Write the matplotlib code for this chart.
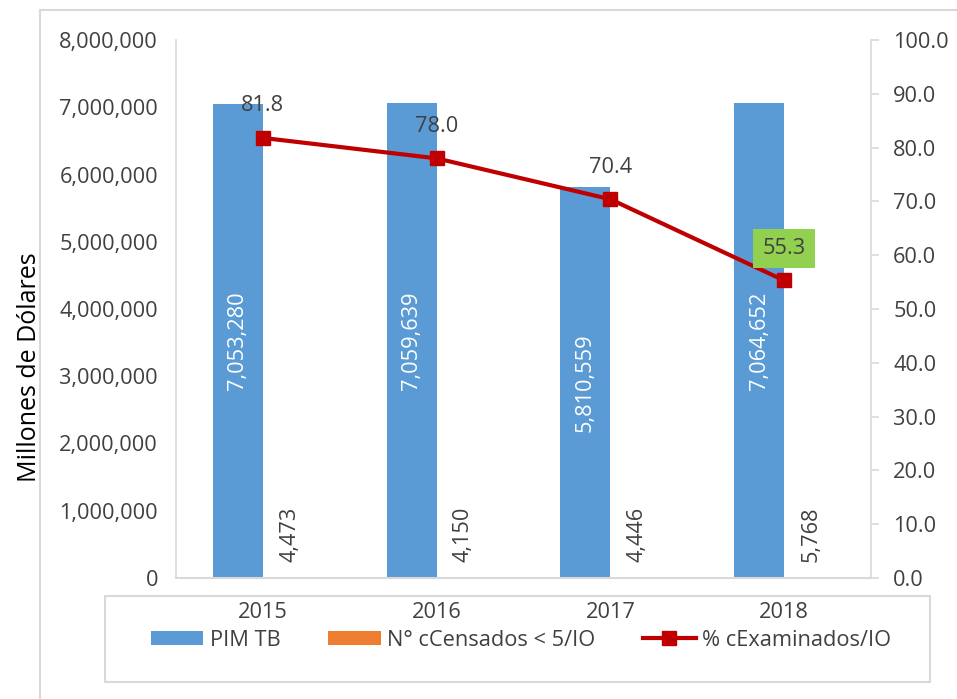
import matplotlib
matplotlib.use("Agg")
import matplotlib.pyplot as plt
import numpy as np
from matplotlib.lines import Line2D
from matplotlib.patches import Rectangle, Patch
from matplotlib.ticker import FuncFormatter, MultipleLocator

plt.rcParams['font.family'] = ['Open Sans', 'DejaVu Sans']

years = ["2015", "2016", "2017", "2018"]
pim_tb = [7053280, 7059639, 5810559, 7064652]
censados = [4473, 4150, 4446, 5768]
examinados = [81.8, 78.0, 70.4, 55.3]

BLUE = "#5B9BD5"
ORANGE = "#ED7D31"
RED = "#C00000"
GREEN = "#92D050"
TXT = "#404040"
GRID = "#D9D9D9"
FS = 15.7

fig = plt.figure(figsize=(9.57, 6.99), dpi=100)
ax = fig.add_axes([176/957, 1-578/699, (871-176)/957, (578-40)/699])
ax2 = ax.twinx()

x = np.arange(len(years))
w = 0.288
b1 = ax.bar(x - w/2, pim_tb, width=w, color=BLUE, zorder=2)
b2 = ax.bar(x + w/2, censados, width=w, color=ORANGE, zorder=2)

for xi, v in zip(x, pim_tb):
    ax.text(xi - w/2, v/2, f"{v:,}", rotation=90, ha='center', va='center',
            color='white', fontsize=FS)
for xi, v in zip(x, censados):
    ax.annotate(f"{v:,}", (xi + w/2 + 0.01, 0), xytext=(0, 11.5),
                textcoords='offset points', rotation=90, ha='center',
                va='bottom', color=TXT, fontsize=FS)

ax.set_xlim(-0.5, 3.5)
ax.set_ylim(0, 8000000)
ax.yaxis.set_major_locator(MultipleLocator(1000000))
ax.yaxis.set_major_formatter(FuncFormatter(lambda v, p: f"{int(v):,}"))
ax.set_xticks(x)
ax.set_xticklabels(years)
ax.tick_params(axis='x', length=0, pad=17, labelsize=FS, labelcolor=TXT)
ax.tick_params(axis='y', length=0, pad=13, labelsize=FS, labelcolor=TXT)
ax.set_ylabel("Millones de Dólares", fontsize=18, color='black')
ax.yaxis.set_label_coords(-(176-42)/695, (578-367)/538)

for s in ['top', 'right']:
    ax.spines[s].set_visible(False)
ax.spines['left'].set_color(GRID)
ax.spines['bottom'].set_color(GRID)
ax.spines['left'].set_linewidth(1.2)
ax.spines['bottom'].set_linewidth(1.5)

ax2.plot(x, examinados, color=RED, linewidth=3, marker='s', markersize=9.5,
         zorder=3)
ax2.set_ylim(0, 100)
ax2.yaxis.set_major_locator(MultipleLocator(10))
ax2.yaxis.set_major_formatter(FuncFormatter(lambda v, p: f"{v:.1f}"))
ax2.tick_params(axis='y', length=6, width=1.2, color=GRID, pad=10,
                labelsize=FS, labelcolor=TXT, direction='out')
for s in ['top', 'left', 'bottom']:
    ax2.spines[s].set_visible(False)
ax2.spines['right'].set_color(GRID)
ax2.spines['right'].set_linewidth(1.2)

for i, (xi, v) in enumerate(zip(x, examinados)):
    kw = {}
    if i == len(examinados) - 1:
        kw['bbox'] = dict(boxstyle='square,pad=0.42', facecolor=GREEN,
                          edgecolor='none')
    ax2.annotate(f"{v:.1f}", (xi, v), xytext=(0, 23),
                 textcoords='offset points', ha='center', va='center',
                 color=TXT, fontsize=FS, **kw)

# legend box
fig.add_artist(Rectangle((105/957, 1-682/699), (930-105)/957, (682-596)/699,
                         transform=fig.transFigure, facecolor='none',
                         edgecolor=GRID, linewidth=1.5))
# outer frame
fig.add_artist(Line2D([40/957, 40/957], [0, 1-10/699], transform=fig.transFigure,
                      color=GRID, linewidth=1.5))
fig.add_artist(Line2D([40/957, 1], [1-10/699, 1-10/699], transform=fig.transFigure,
                      color=GRID, linewidth=1.5))

handles = [Patch(facecolor=BLUE, edgecolor='none'),
           Patch(facecolor=ORANGE, edgecolor='none'),
           Line2D([], [], color=RED, linewidth=3, marker='s', markersize=9.5)]
labels = ["PIM TB", "N° cCensados < 5/IO", "% cExaminados/IO"]
leg = fig.legend(handles, labels, loc='center', ncol=3, frameon=False,
                 bbox_to_anchor=(521/957, 1-640/699), fontsize=FS,
                 handlelength=2.4, handleheight=0.65, handletextpad=0.3,
                 columnspacing=2.2)
for t in leg.get_texts():
    t.set_color(TXT)

fig.savefig("out.png", dpi=100)
